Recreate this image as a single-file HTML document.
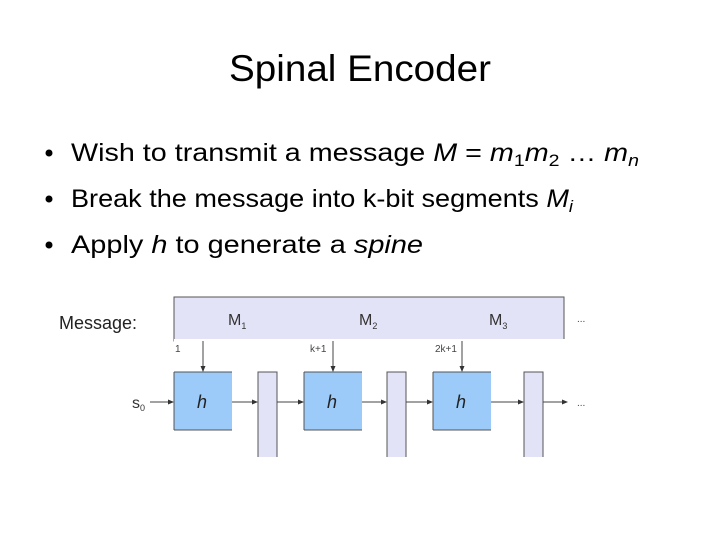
<!DOCTYPE html>
<html><head><meta charset="utf-8"><style>
html,body{margin:0;padding:0;background:#fff;}
svg{display:block;font-family:"Liberation Sans",sans-serif;}
</style></head><body>
<svg width="720" height="540" viewBox="0 0 720 540" xmlns="http://www.w3.org/2000/svg">
<defs><marker id="a" markerWidth="6" markerHeight="6" refX="5" refY="3" orient="auto"><path d="M0,0.5 L6,3 L0,5.5z" fill="#333"/></marker></defs>
<text x="360" y="81" font-size="37" text-anchor="middle" fill="#000" textLength="262" lengthAdjust="spacingAndGlyphs">Spinal Encoder</text>
<g font-size="25" fill="#000">
<circle cx="49" cy="153" r="3.5"/><circle cx="49" cy="199" r="3.5"/><circle cx="49" cy="245" r="3.5"/>
<text x="71" y="161" textLength="568" lengthAdjust="spacingAndGlyphs">Wish to transmit a message <tspan font-style="italic">M</tspan> = <tspan font-style="italic">m</tspan><tspan font-size="17" dy="5">1</tspan><tspan font-style="italic" dy="-5">m</tspan><tspan font-size="17" dy="5">2</tspan><tspan dy="-5"> … </tspan><tspan font-style="italic">m</tspan><tspan font-size="17" font-style="italic" dy="5">n</tspan></text>
<text x="71" y="207" textLength="502" lengthAdjust="spacingAndGlyphs">Break the message into k-bit segments <tspan font-style="italic">M</tspan><tspan font-size="17" font-style="italic" dy="5">i</tspan></text>
<text x="71" y="253" textLength="352" lengthAdjust="spacingAndGlyphs">Apply <tspan font-style="italic">h</tspan> to generate a <tspan font-style="italic">spine</tspan></text>
</g>
<rect x="174" y="297" width="390" height="44" fill="#e3e3f7" stroke="#555" stroke-width="1"/>
<rect x="174" y="339" width="391" height="4" fill="#fff"/>
<text x="59" y="329" font-size="18" fill="#222">Message:</text>
<g font-size="16" fill="#333"><text x="228" y="325">M<tspan font-size="9" dy="4">1</tspan></text>
<text x="359" y="325">M<tspan font-size="9" dy="4">2</tspan></text>
<text x="489" y="325">M<tspan font-size="9" dy="4">3</tspan></text></g>
<g font-size="10" fill="#444"><text x="577" y="322">...</text><text x="577" y="406">...</text>
<text x="175" y="352">1</text><text x="310" y="352">k+1</text><text x="435" y="352">2k+1</text></g>
<text x="132" y="408" font-size="16" fill="#333">s<tspan font-size="9" dy="3">0</tspan></text>
<g fill="#9ccbf9"><rect x="174" y="372" width="58" height="58"/><rect x="304" y="372" width="58" height="58"/><rect x="433" y="372" width="58" height="58"/></g>
<g stroke="#555" stroke-width="1"><line x1="174" y1="372" x2="232" y2="372"/><line x1="174" y1="372" x2="174" y2="430"/><line x1="174" y1="430" x2="232" y2="430"/>
<line x1="304" y1="372" x2="362" y2="372"/><line x1="304" y1="372" x2="304" y2="430"/><line x1="304" y1="430" x2="362" y2="430"/>
<line x1="433" y1="372" x2="491" y2="372"/><line x1="433" y1="372" x2="433" y2="430"/><line x1="433" y1="430" x2="491" y2="430"/></g>
<g font-size="18" font-style="italic" fill="#222"><text x="197" y="408">h</text><text x="327" y="408">h</text><text x="456" y="408">h</text></g>
<g fill="#e3e3f7" stroke="#555" stroke-width="1"><path d="M258,457 V372 H277 V457"/><path d="M387,457 V372 H406 V457"/><path d="M524,457 V372 H543 V457"/></g>
<g stroke="#444" stroke-width="1" marker-end="url(#a)">
<line x1="203" y1="341" x2="203" y2="371"/><line x1="333" y1="341" x2="333" y2="371"/><line x1="462" y1="341" x2="462" y2="371"/>
<line x1="150" y1="402" x2="173" y2="402"/><line x1="232" y1="402" x2="257" y2="402"/><line x1="277" y1="402" x2="303" y2="402"/>
<line x1="362" y1="402" x2="386" y2="402"/><line x1="406" y1="402" x2="432" y2="402"/><line x1="491" y1="402" x2="523" y2="402"/><line x1="543" y1="402" x2="567" y2="402"/>
</g>
</svg>
</body></html>
